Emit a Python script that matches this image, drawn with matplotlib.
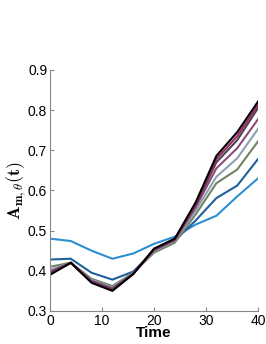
import matplotlib
matplotlib.use("Agg")
import matplotlib.pyplot as plt

plt.rcParams["font.family"] = ["Liberation Sans", "DejaVu Sans"]
plt.rcParams["mathtext.fontset"] = "cm"

time = [0, 4, 8, 12, 16, 20, 24, 28, 32, 36, 40]
s1 = [0.480, 0.474, 0.450, 0.430, 0.443, 0.467, 0.485, 0.515, 0.537, 0.585, 0.630]
s2 = [0.428, 0.430, 0.395, 0.378, 0.398, 0.450, 0.475, 0.525, 0.581, 0.612, 0.678]
s3 = [0.410, 0.420, 0.380, 0.362, 0.395, 0.445, 0.470, 0.540, 0.618, 0.652, 0.722]
s4 = [0.402, 0.420, 0.377, 0.358, 0.394, 0.449, 0.474, 0.550, 0.634, 0.680, 0.753]
s5 = [0.398, 0.420, 0.375, 0.356, 0.393, 0.451, 0.476, 0.558, 0.655, 0.705, 0.777]
s6 = [0.394, 0.420, 0.373, 0.354, 0.392, 0.453, 0.478, 0.563, 0.670, 0.725, 0.805]
s7 = [0.392, 0.420, 0.372, 0.352, 0.392, 0.454, 0.479, 0.566, 0.678, 0.735, 0.813]
s8 = [0.390, 0.420, 0.370, 0.350, 0.392, 0.455, 0.480, 0.570, 0.686, 0.745, 0.821]
series = [s1, s2, s3, s4, s5, s6, s7, s8]
colors = ["#2b8fd1", "#1e5f9c", "#6f8462", "#8d9fb3", "#8e4a7a", "#474747", "#a0266f", "#000000"]
yticks = [0.3, 0.4, 0.5, 0.6, 0.7, 0.8, 0.9]
xticks = [0, 10, 20, 30, 40]

fig = plt.figure(figsize=(2.66, 3.44), dpi=100)
ax = fig.add_axes([0.188, 0.096, 0.782, 0.701])
for s, c in zip(series, colors):
    ax.plot(time, s, color=c, lw=1.5)
ax.set_xlim(0, 40)
ax.set_ylim(0.3, 0.9)
ax.set_xticks(xticks)
ax.set_yticks(yticks)
ax.set_yticklabels([f"{v:.1f}" for v in yticks])
for sp in ["top", "right"]:
    ax.spines[sp].set_visible(False)
for sp in ["left", "bottom"]:
    ax.spines[sp].set_color("#888888")
ax.tick_params(direction="in", length=3, color="#888888", labelsize=10, pad=2)
ax.set_xlabel("Time", fontsize=11, fontweight="bold", labelpad=-1)
ax.set_ylabel(r"$\mathbf{A_{m,\theta}(t)}$", fontsize=13)
ax.yaxis.set_label_coords(-0.105, 0.5)
fig.savefig("out.png", dpi=100)
